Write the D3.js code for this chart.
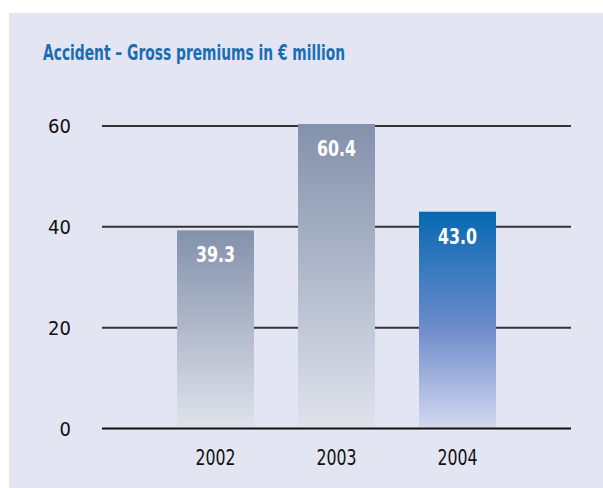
<!DOCTYPE html>
<html>
<head>
<meta charset="utf-8">
<script src="https://cdn.jsdelivr.net/npm/d3@7"></script>
<style>
  html, body { margin: 0; padding: 0; background: #ffffff; }
  svg { display: block; }
  text { font-family: "DejaVu Sans Condensed", "Open Sans", sans-serif; }
</style>
</head>
<body>
<svg id="chart" width="603" height="488"></svg>
<script>
// Accident line of business: gross premiums, € million
const years = ["2002", "2003", "2004"];
const premiums = [39.3, 60.4, 43.0];
const yTicks = [0, 20, 40, 60];
const title = "Accident – Gross premiums in € million";

const svg = d3.select("#chart");
const W = 603, H = 488;

// panel background
svg.append("rect")
  .attr("x", 9).attr("y", 13)
  .attr("width", W - 9).attr("height", H - 13)
  .attr("fill", "#e3e5f2");

// gradients: grey-blue for past years, corporate blue for the current year
const defs = svg.append("defs");
const grey = defs.append("linearGradient").attr("id", "gGrey")
  .attr("x1", 0).attr("y1", 0).attr("x2", 0).attr("y2", 1);
grey.append("stop").attr("offset", "0%").attr("stop-color", "#8391ab");
grey.append("stop").attr("offset", "100%").attr("stop-color", "#dfe2eb");
const blue = defs.append("linearGradient").attr("id", "gBlue")
  .attr("x1", 0).attr("y1", 0).attr("x2", 0).attr("y2", 1);
blue.append("stop").attr("offset", "0%").attr("stop-color", "#0668b3");
blue.append("stop").attr("offset", "55%").attr("stop-color", "#6f8dcb");
blue.append("stop").attr("offset", "100%").attr("stop-color", "#d3d8ee");

const y = d3.scaleLinear().domain([0, 60]).range([428.5, 126]);
const x = d3.scaleBand().domain(years).range([155, 518])
  .paddingInner(44 / 121).paddingOuter(22 / 121);

const gridX0 = 102, gridX1 = 571;

// horizontal grid lines with value labels
const yAxis = svg.append("g");
yAxis.selectAll("line").data(yTicks).join("line")
  .attr("x1", gridX0).attr("x2", gridX1)
  .attr("y1", d => y(d)).attr("y2", d => y(d))
  .attr("stroke", d => d === 0 ? "#111" : "#333")
  .attr("stroke-width", 2);
yAxis.selectAll("text").data(yTicks).join("text")
  .attr("x", 71).attr("y", d => y(d))
  .attr("dy", "0.36em")
  .attr("text-anchor", "end")
  .attr("font-size", 20)
  .attr("fill", "#111")
  .text(d => d);

// bars
svg.append("g").selectAll("rect").data(years).join("rect")
  .attr("x", d => x(d))
  .attr("width", x.bandwidth())
  .attr("y", (d, i) => y(premiums[i]))
  .attr("height", (d, i) => y(0) - 1.5 - y(premiums[i]))
  .attr("fill", (d, i) => i === years.length - 1 ? "url(#gBlue)" : "url(#gGrey)");

// value labels inside bar tops
svg.append("g").selectAll("text").data(years).join("text")
  .attr("x", d => x(d) + x.bandwidth() / 2)
  .attr("y", (d, i) => y(premiums[i]) + 32)
  .attr("text-anchor", "middle")
  .attr("font-size", 21)
  .attr("font-weight", "bold")
  .attr("fill", "#ffffff")
  .attr("textLength", 39)
  .attr("lengthAdjust", "spacingAndGlyphs")
  .text((d, i) => premiums[i].toFixed(1));

// category labels
svg.append("g").selectAll("text").data(years).join("text")
  .attr("x", d => x(d) + x.bandwidth() / 2)
  .attr("y", 465)
  .attr("text-anchor", "middle")
  .attr("font-size", 21)
  .attr("fill", "#111")
  .attr("textLength", 40)
  .attr("lengthAdjust", "spacingAndGlyphs")
  .text(d => d);

// title
svg.append("text")
  .attr("x", 43).attr("y", 60)
  .attr("font-size", 22)
  .attr("font-weight", "bold")
  .attr("fill", "#1a6db3")
  .attr("textLength", 302)
  .attr("lengthAdjust", "spacingAndGlyphs")
  .text(title);
</script>
</body>
</html>
